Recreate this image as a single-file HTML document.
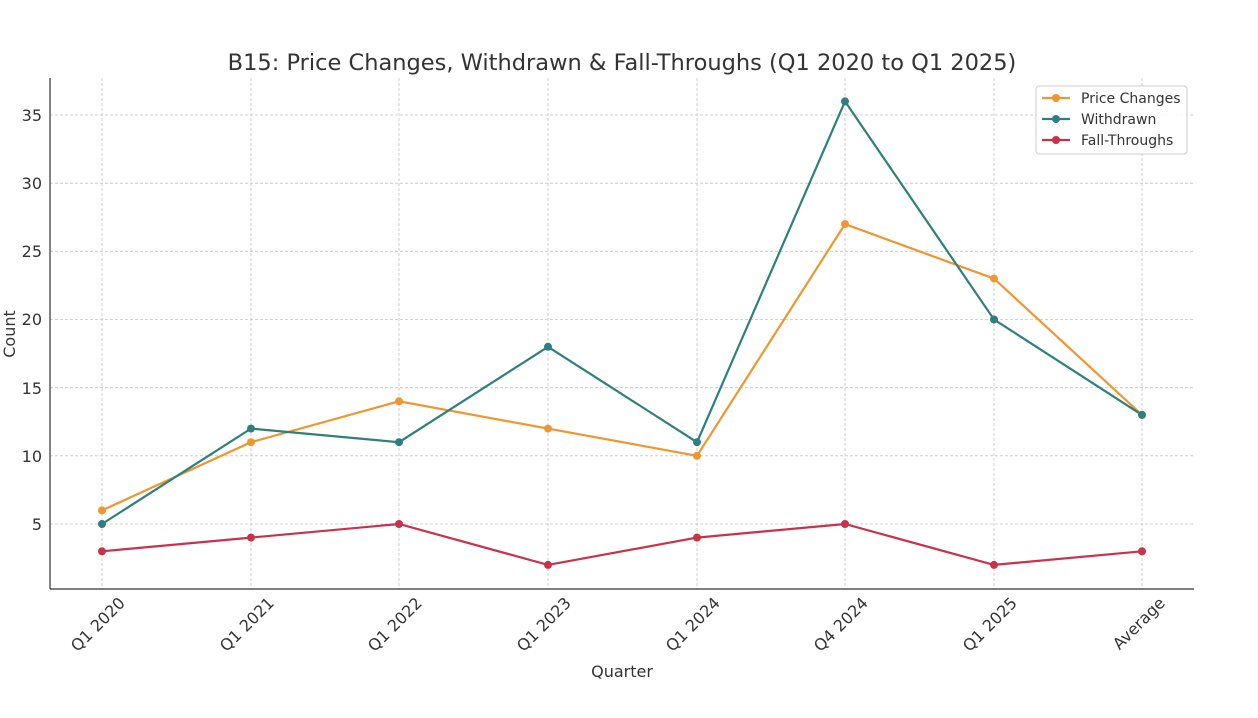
<!DOCTYPE html>
<html><head><meta charset="utf-8"><style>body{margin:0;background:#fff}svg{display:block}</style></head>
<body>
<svg width="1258" height="718" viewBox="0 0 1258 718" xmlns="http://www.w3.org/2000/svg" font-family="DejaVu Sans, Liberation Sans, sans-serif">
<rect width="1258" height="718" fill="#fff"/>
<text x="622" y="70" text-anchor="middle" font-size="22.5" fill="#333">B15: Price Changes, Withdrawn &amp; Fall-Throughs (Q1 2020 to Q1 2025)</text>
<g stroke="#c4c4c4" stroke-dasharray="3,2" stroke-width="0.8">
<line x1="50" x2="1194" y1="524" y2="524"/><line x1="50" x2="1194" y1="455.8" y2="455.8"/><line x1="50" x2="1194" y1="387.7" y2="387.7"/><line x1="50" x2="1194" y1="319.5" y2="319.5"/><line x1="50" x2="1194" y1="251.3" y2="251.3"/><line x1="50" x2="1194" y1="183.2" y2="183.2"/><line x1="50" x2="1194" y1="115" y2="115"/>
<line y1="78" y2="589" x1="102" x2="102"/><line y1="78" y2="589" x1="251" x2="251"/><line y1="78" y2="589" x1="399" x2="399"/><line y1="78" y2="589" x1="548" x2="548"/><line y1="78" y2="589" x1="697" x2="697"/><line y1="78" y2="589" x1="845" x2="845"/><line y1="78" y2="589" x1="994" x2="994"/><line y1="78" y2="589" x1="1142" x2="1142"/>
</g>
<g stroke="#333" stroke-width="1.2"><line x1="50" y1="78" x2="50" y2="589"/><line x1="50" y1="589" x2="1194" y2="589"/></g>
<g font-size="16" fill="#333" text-anchor="end">
<text x="42" y="530">5</text><text x="42" y="462">10</text><text x="42" y="394">15</text><text x="42" y="325">20</text><text x="42" y="257">25</text><text x="42" y="189">30</text><text x="42" y="121">35</text>
</g>
<g font-size="16" fill="#333" text-anchor="end">
<text transform="translate(126,604) rotate(-45)">Q1 2020</text>
<text transform="translate(275,604) rotate(-45)">Q1 2021</text>
<text transform="translate(423,604) rotate(-45)">Q1 2022</text>
<text transform="translate(572,604) rotate(-45)">Q1 2023</text>
<text transform="translate(721,604) rotate(-45)">Q1 2024</text>
<text transform="translate(869,604) rotate(-45)">Q4 2024</text>
<text transform="translate(1018,604) rotate(-45)">Q1 2025</text>
<text transform="translate(1166,604) rotate(-45)">Average</text>
</g>
<text x="622" y="677" text-anchor="middle" font-size="16" fill="#333">Quarter</text>
<text transform="translate(15,334) rotate(-90)" text-anchor="middle" font-size="16" fill="#333">Count</text>
<polyline fill="none" stroke="#f0962e" stroke-width="2.2" points="102,510.4 251,442.2 399,401.3 548,428.6 697,455.8 845,224.1 994,278.6 1142,414.9"/>
<polyline fill="none" stroke="#2e7f7d" stroke-width="2.2" points="102,524 251,428.6 399,442.2 548,346.8 697,442.2 845,101.4 994,319.5 1142,414.9"/>
<polyline fill="none" stroke="#c8324a" stroke-width="2.2" points="102,551.3 251,537.6 399,524 548,564.9 697,537.6 845,524 994,564.9 1142,551.3"/>
<g fill="#f0962e"><circle cx="102" cy="510.4" r="4"/><circle cx="251" cy="442.2" r="4"/><circle cx="399" cy="401.3" r="4"/><circle cx="548" cy="428.6" r="4"/><circle cx="697" cy="455.8" r="4"/><circle cx="845" cy="224.1" r="4"/><circle cx="994" cy="278.6" r="4"/><circle cx="1142" cy="414.9" r="4"/></g>
<g fill="#2e7f7d"><circle cx="102" cy="524" r="4"/><circle cx="251" cy="428.6" r="4"/><circle cx="399" cy="442.2" r="4"/><circle cx="548" cy="346.8" r="4"/><circle cx="697" cy="442.2" r="4"/><circle cx="845" cy="101.4" r="4"/><circle cx="994" cy="319.5" r="4"/><circle cx="1142" cy="414.9" r="4"/></g>
<g fill="#c8324a"><circle cx="102" cy="551.3" r="4"/><circle cx="251" cy="537.6" r="4"/><circle cx="399" cy="524" r="4"/><circle cx="548" cy="564.9" r="4"/><circle cx="697" cy="537.6" r="4"/><circle cx="845" cy="524" r="4"/><circle cx="994" cy="564.9" r="4"/><circle cx="1142" cy="551.3" r="4"/></g>
<rect x="1036" y="86" width="151" height="68" rx="3" fill="#fff" fill-opacity="0.85" stroke="#ccc"/>
<g font-size="14" fill="#333">
<line x1="1042" x2="1070" y1="98" y2="98" stroke="#f0962e" stroke-width="2.2"/><circle cx="1056" cy="98" r="4" fill="#f0962e"/><text x="1081" y="103">Price Changes</text>
<line x1="1042" x2="1070" y1="119" y2="119" stroke="#2e7f7d" stroke-width="2.2"/><circle cx="1056" cy="119" r="4" fill="#2e7f7d"/><text x="1081" y="124">Withdrawn</text>
<line x1="1042" x2="1070" y1="140" y2="140" stroke="#c8324a" stroke-width="2.2"/><circle cx="1056" cy="140" r="4" fill="#c8324a"/><text x="1081" y="145">Fall-Throughs</text>
</g>
</svg>
</body></html>
